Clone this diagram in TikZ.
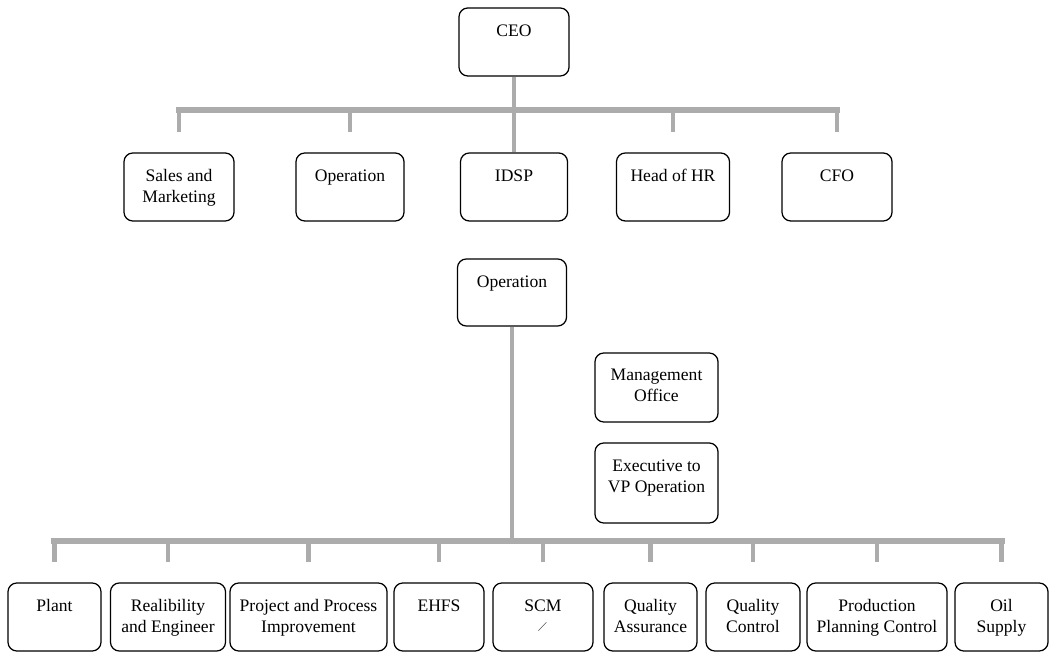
\documentclass[tikz,border=0pt]{standalone}
\usepackage{amssymb}
\usepackage{fontspec}
\setmainfont{Liberation Serif}
\usepackage{tikz}

\tikzset{
  post/.style={draw, line width=0.9pt, rounded corners=2.2mm, inner sep=0pt, fill=white,
    font=\fontsize{12.5}{15}\selectfont},
  bar/.style={draw=gray!65, line width=1.7mm, line cap=rect},
  stem/.style={draw=gray!65, line width=1.1mm},
}
% width, height, text (text sits at the top of the box)
\newcommand{\postbox}[3]{\parbox[c][#2][t]{#1}{\centering\vspace{4.1mm}#3}}

\begin{document}
\begin{tikzpicture}[x=0.025cm, y=-0.025cm]
    \useasboundingbox (0,0) rectangle (1055,655);

    % Top level
    \node[post] (ceo) at (514,42) {\postbox{27.5mm}{17mm}{CEO}};

    \node[post] (sales) at (179,187) {\postbox{27.5mm}{17mm}{Sales and\\Marketing}};
    \node[post] (operation) at (350,187) {\postbox{27mm}{17mm}{Operation}};
    \node[post] (idsp) at (514,187) {\postbox{26.75mm}{17mm}{IDSP}};
    \node[post] (hr) at (673,187) {\postbox{28.25mm}{17mm}{Head of HR}};
    \node[post] (cfo) at (837,187) {\postbox{27.5mm}{17mm}{CFO}};

    \coordinate (topbar) at (514,110);
    \draw[bar] (sales |- topbar) -- (cfo |- topbar);
    \draw[stem] (ceo.south) -- (idsp.north);
    \foreach \n in {sales,operation,hr,cfo}
        \draw[stem] (\n |- topbar) -- ++(0,22);

    % Operation
    \node[post] (ops) at (512,292.5) {\postbox{27.25mm}{16.75mm}{Operation}};
    \node[post] (office) at (656.5,387.5) {\postbox{30.75mm}{17.25mm}{Management\\Office}};
    \node[post] (exec) at (656.5,483) {\postbox{30.75mm}{20mm}{Executive to\\VP Operation}};

    \node[post] (plant) at (54.5,617) {\postbox{23.25mm}{17mm}{Plant}};
    \node[post] (reliab) at (168,617) {\postbox{28.75mm}{17mm}{Realibility\\and Engineer}};
    \node[post] (project) at (308.5,617) {\postbox{39.25mm}{17mm}{Project and Process\\Improvement}};
    \node[post] (ehfs) at (439,617) {\postbox{22.5mm}{17mm}{EHFS}};
    \node[post] (scm) at (543,617) {\postbox{25mm}{17mm}{SCM\\[-2pt]{\scriptsize$\diagup$}}};
    \node[post] (qa) at (650.5,617) {\postbox{23.25mm}{17mm}{Quality\\Assurance}};
    \node[post] (qc) at (753,617) {\postbox{23.5mm}{17mm}{Quality\\Control}};
    \node[post] (ppc) at (877,617) {\postbox{35mm}{17mm}{Production\\Planning Control}};
    \node[post] (oil) at (1001.5,617) {\postbox{23.25mm}{17mm}{Oil\\Supply}};

    \coordinate (lowbar) at (512,541);
    \draw[bar] (plant |- lowbar) -- (oil |- lowbar);
    \draw[stem] (ops.south) -- (lowbar);
    \foreach \n in {plant,reliab,project,ehfs,scm,qa,qc,ppc,oil}
        \draw[stem] (\n |- lowbar) -- ++(0,21);
\end{tikzpicture}
\end{document}
